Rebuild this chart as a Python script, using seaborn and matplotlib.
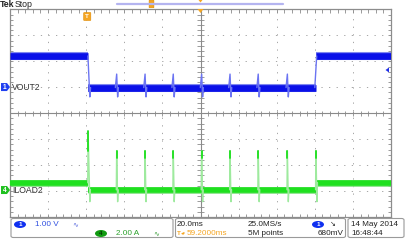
import numpy as np
import pandas as pd
import matplotlib
matplotlib.use("Agg")
import matplotlib.pyplot as plt
import seaborn as sns
from matplotlib.patches import FancyBboxPatch, Ellipse, Polygon

# ---------------- data ----------------
# time axis in ms (20 ms/div, 10 divisions), vertical in screen divisions
time_range = [-100.0, 100.0]
fall_ms = -59.0
rise_ms = 60.6
spike_ms = [-44.0, -29.1, -14.3, 0.6, 15.5, 30.3, 45.6]

# VOUT2 trace (divisions)
vout_high = 2.21
vout_low = 0.99
vout_spike_top = 1.51
vout_spike_bottom = 0.63

# ILOAD2 trace (divisions)
iload_high = -2.68
iload_low = -2.95
iload_first_peak = -0.70
iload_spike_top = -1.44
iload_spike_bottom = -3.41

# channel ground markers (divisions)
ch1_marker = 1.01
ch4_marker = -2.96

# readouts
ch1_scale = "1.00 V"
ch4_scale = "2.00 A"
timebase = "20.0ms"
trig_pos = "59.2000ms"
sample_rate = "25.0MS/s"
record_len = "5M points"
trig_level = "680mV"
date_str = "14 May 2014"
time_str = "16:48:44"

# ---------------- build trace tables ----------------
def band_table(high, low):
    t0, t1 = time_range
    return pd.DataFrame({
        "t": [t0, fall_ms, fall_ms, rise_ms, rise_ms, t1],
        "y": [high, high, low, low, high, high],
        "seg": [0, 0, 1, 1, 2, 2],
    })

def vout_edges():
    rows = []
    k = 0
    for t, y in [(fall_ms - 0.1, vout_high), (fall_ms + 0.9, vout_spike_bottom), (fall_ms + 1.3, vout_low)]:
        rows.append((t, y, k))
    for s in spike_ms:
        k += 1
        for t, y in [(s - 0.7, vout_low), (s, vout_spike_top), (s + 0.5, vout_spike_bottom), (s + 0.9, vout_low)]:
            rows.append((t, y, k))
    k += 1
    for t, y in [(rise_ms - 0.6, vout_low), (rise_ms + 0.4, vout_high)]:
        rows.append((t, y, k))
    return pd.DataFrame(rows, columns=["t", "y", "seg"])

def iload_edges():
    rows = []
    k = 0
    for t, y in [(fall_ms - 0.2, iload_high), (fall_ms, iload_first_peak), (fall_ms + 0.9, iload_spike_bottom), (fall_ms + 1.2, iload_low)]:
        rows.append((t, y, k))
    for s in spike_ms + [rise_ms]:
        k += 1
        end = iload_high if s == rise_ms else iload_low
        for t, y in [(s - 0.2, iload_low), (s, iload_spike_top), (s + 0.5, iload_spike_bottom), (s + 0.8, end)]:
            rows.append((t, y, k))
    return pd.DataFrame(rows, columns=["t", "y", "seg"])

def iload_tops():
    rows = []
    rows += [(fall_ms, iload_first_peak, 0), (fall_ms, iload_first_peak - 0.75, 0)]
    for i, s in enumerate(spike_ms + [rise_ms]):
        rows += [(s, iload_spike_top, i + 1), (s, iload_spike_top - 0.3, i + 1)]
    return pd.DataFrame(rows, columns=["t", "y", "seg"])

# ---------------- figure ----------------
sns.set_style("white")
plt.rcParams["font.family"] = ["Liberation Sans", "DejaVu Sans"]
W, H = 405, 249
fig = plt.figure(figsize=(W / 100, H / 100), dpi=100)
fig.patch.set_facecolor("white")

ax = fig.add_axes([10 / W, 1 - 217 / H, 381 / W, 207.5 / H])
ax.set_xlim(*time_range)
ax.set_ylim(-4, 4)
ax.set_xticks([]); ax.set_yticks([])
for sp in ax.spines.values():
    sp.set_color("#8c8c8c"); sp.set_linewidth(0.9)

# graticule
for x in np.arange(-80, 81, 20):
    if x != 0:
        ax.axvline(x, color="#a6a6a6", lw=0.7, ls=(0, (1.3, 6.5)), zorder=0)
for y in np.arange(-3, 4, 1):
    if y != 0:
        ax.axhline(y, color="#a6a6a6", lw=0.7, ls=(0, (1.3, 6.5)), zorder=0)
ax.axhline(0, color="#8a8a8a", lw=0.8, zorder=0)
ax.axvline(0, color="#8a8a8a", lw=0.8, zorder=0)
xt = np.arange(-96, 97, 4)
ax.vlines(xt, -0.09, 0.09, color="#8a8a8a", lw=0.6, zorder=0)
yt = np.arange(-3.8, 3.81, 0.2)
ax.hlines(yt, -1.6, 1.6, color="#8a8a8a", lw=0.6, zorder=0)
# border ticks
ax.vlines(xt, 3.88, 4, color="#8a8a8a", lw=0.6, zorder=0)
ax.vlines(xt, -4, -3.88, color="#8a8a8a", lw=0.6, zorder=0)
ax.hlines(yt, -100, -98.5, color="#8a8a8a", lw=0.6, zorder=0)
ax.hlines(yt, 98.5, 100, color="#8a8a8a", lw=0.6, zorder=0)

# traces
blue = "#0a10e8"
blue_l = "#6b74f2"
green = "#1fe01f"
green_l = "#9eea9e"

vb = band_table(vout_high, vout_low)
ib = band_table(iload_high, iload_low)
butt = dict(solid_capstyle="butt", solid_joinstyle="miter")

sns.lineplot(data=vb, x="t", y="y", units="seg", estimator=None, sort=False,
             color="#8088f0", lw=5.8, ax=ax, zorder=2, **butt)
sns.lineplot(data=vb, x="t", y="y", units="seg", estimator=None, sort=False,
             color=blue, lw=4.8, ax=ax, zorder=3, **butt)
sns.lineplot(data=vout_edges(), x="t", y="y", units="seg", estimator=None, sort=False,
             color=blue_l, lw=1.0, ax=ax, zorder=4)

sns.lineplot(data=ib, x="t", y="y", units="seg", estimator=None, sort=False,
             color="#80e080", lw=4.8, ax=ax, zorder=2, **butt)
sns.lineplot(data=ib, x="t", y="y", units="seg", estimator=None, sort=False,
             color=green, lw=4.0, ax=ax, zorder=3, **butt)
sns.lineplot(data=iload_edges(), x="t", y="y", units="seg", estimator=None, sort=False,
             color=green_l, lw=1.0, ax=ax, zorder=4)
sns.lineplot(data=iload_tops(), x="t", y="y", units="seg", estimator=None, sort=False,
             color=green, lw=1.3, ax=ax, zorder=5)
ax.set_xlabel(""); ax.set_ylabel("")
if ax.get_legend():
    ax.get_legend().remove()

# ---------------- overlay decorations in pixel coordinates ----------------
def fx(px): return px / W
def fy(py): return 1 - py / H

orange = "#f5a623"
fs = 5.9

# header
fig.text(fx(0), fy(4.5), "Tek", fontsize=6.3, fontweight="bold", color="#222222", va="center", ha="left")
fig.text(fx(15), fy(4.5), "Stop", fontsize=6.3, color="#222222", va="center", ha="left")
fig.add_artist(plt.Line2D([fx(117), fx(283)], [fy(4), fy(4)], color="#b4b4f0", lw=1.6))
fig.add_artist(FancyBboxPatch((fx(149.5), fy(7.5)), 4 / W, 7 / H, boxstyle="round,pad=0.001",
                              fc=orange, ec="#e08a00", lw=0.4))
fig.add_artist(Polygon([[fx(197.5), fy(9)], [fx(203.5), fy(9)], [fx(200.5), fy(13)]],
                       closed=True, fc=orange, ec="none"))
fig.add_artist(Polygon([[fx(198.5), fy(0)], [fx(202.5), fy(0)], [fx(200.5), fy(2.5)]],
                       closed=True, fc=orange, ec="none"))
# trigger marker T
fig.add_artist(FancyBboxPatch((fx(84.5), fy(20)), 5.5 / W, 7 / H, boxstyle="round,pad=0.002",
                              fc=orange, ec="#e08a00", lw=0.4))
fig.text(fx(87.3), fy(16.5), "T", fontsize=4.5, color="white", fontweight="bold", va="center", ha="center")
# trigger level arrow on right
fig.add_artist(Polygon([[fx(385.5), fy(70)], [fx(389), fy(67.5)], [fx(389), fy(72.5)]],
                       closed=True, fc="#2030e8", ec="none"))

# channel labels on left
def ch_label(py, num, fc, name):
    fig.add_artist(Polygon([[fx(1), fy(py - 4)], [fx(7), fy(py - 4)], [fx(10), fy(py)],
                            [fx(7), fy(py + 4)], [fx(1), fy(py + 4)]], closed=True, fc=fc, ec="none"))
    fig.text(fx(4.5), fy(py), num, fontsize=4.8, color="white", fontweight="bold", va="center", ha="center")
    fig.text(fx(12), fy(py), name, fontsize=6.2, color="#333333", va="center", ha="left")

py1 = 113.25 - ch1_marker * 25.94
py4 = 113.25 - ch4_marker * 25.94
ch_label(py1, "1", "#2040f0", "VOUT2")
ch_label(py4, "4", "#20c020", "ILOAD2")

# bottom readout boxes
def box(x0, x1):
    fig.add_artist(FancyBboxPatch((fx(x0), fy(237.5)), (x1 - x0) / W, 19 / H,
                                  boxstyle="round,pad=0,rounding_size=0.006",
                                  fc="white", ec="#9a9a9a", lw=0.8))
box(11, 173)
box(175.5, 345.5)
box(348, 404)

r1, r2 = 224.5, 233.5
fig.add_artist(Ellipse((fx(20), fy(r1)), 12 / W, 7 / H, fc="#1030f0", ec="none"))
fig.text(fx(20), fy(r1), "1", fontsize=4.5, color="white", fontweight="bold", va="center", ha="center")
fig.text(fx(35), fy(r1), ch1_scale, fontsize=fs, color="#3050e0", va="center", ha="left")
fig.text(fx(72), fy(r1), "∿", fontsize=5, color="#6070e0", va="center", ha="left", family="DejaVu Sans")

fig.add_artist(Ellipse((fx(101), fy(r2)), 12 / W, 7 / H, fc="#109a10", ec="none"))
fig.text(fx(101), fy(r2), "4", fontsize=4.5, color="#003300", fontweight="bold", va="center", ha="center")
fig.text(fx(116), fy(r2), ch4_scale, fontsize=fs, color="#2aa02a", va="center", ha="left")
fig.text(fx(153), fy(r2), "∿", fontsize=5, color="#40a040", va="center", ha="left", family="DejaVu Sans")

fig.text(fx(177), fy(r1), timebase, fontsize=fs, color="#222222", va="center", ha="left")
fig.text(fx(176.5), fy(r2), "T", fontsize=4.5, color=orange, fontweight="bold", va="center", ha="left")
fig.text(fx(180.5), fy(r2), "◂▾", fontsize=3.5, color=orange, va="center", ha="left", family="DejaVu Sans")
fig.text(fx(187), fy(r2), trig_pos, fontsize=fs, color=orange, va="center", ha="left")

fig.text(fx(248), fy(r1), sample_rate, fontsize=fs, color="#222222", va="center", ha="left")
fig.text(fx(248), fy(r2), record_len, fontsize=fs, color="#222222", va="center", ha="left")

fig.add_artist(Ellipse((fx(318), fy(r1)), 12 / W, 7 / H, fc="#1030f0", ec="none"))
fig.text(fx(318), fy(r1), "1", fontsize=4.5, color="white", fontweight="bold", va="center", ha="center")
fig.text(fx(330), fy(r1), "↘", fontsize=5, color="#222222", va="center", ha="left", family="DejaVu Sans")
fig.text(fx(343.5), fy(r2), trig_level, fontsize=fs, color="#222222", va="center", ha="right")

fig.text(fx(351), fy(r1), date_str, fontsize=fs, color="#222222", va="center", ha="left")
fig.text(fx(351), fy(r2), time_str, fontsize=fs, color="#222222", va="center", ha="left")

fig.savefig("out.png", dpi=100, facecolor="white")
